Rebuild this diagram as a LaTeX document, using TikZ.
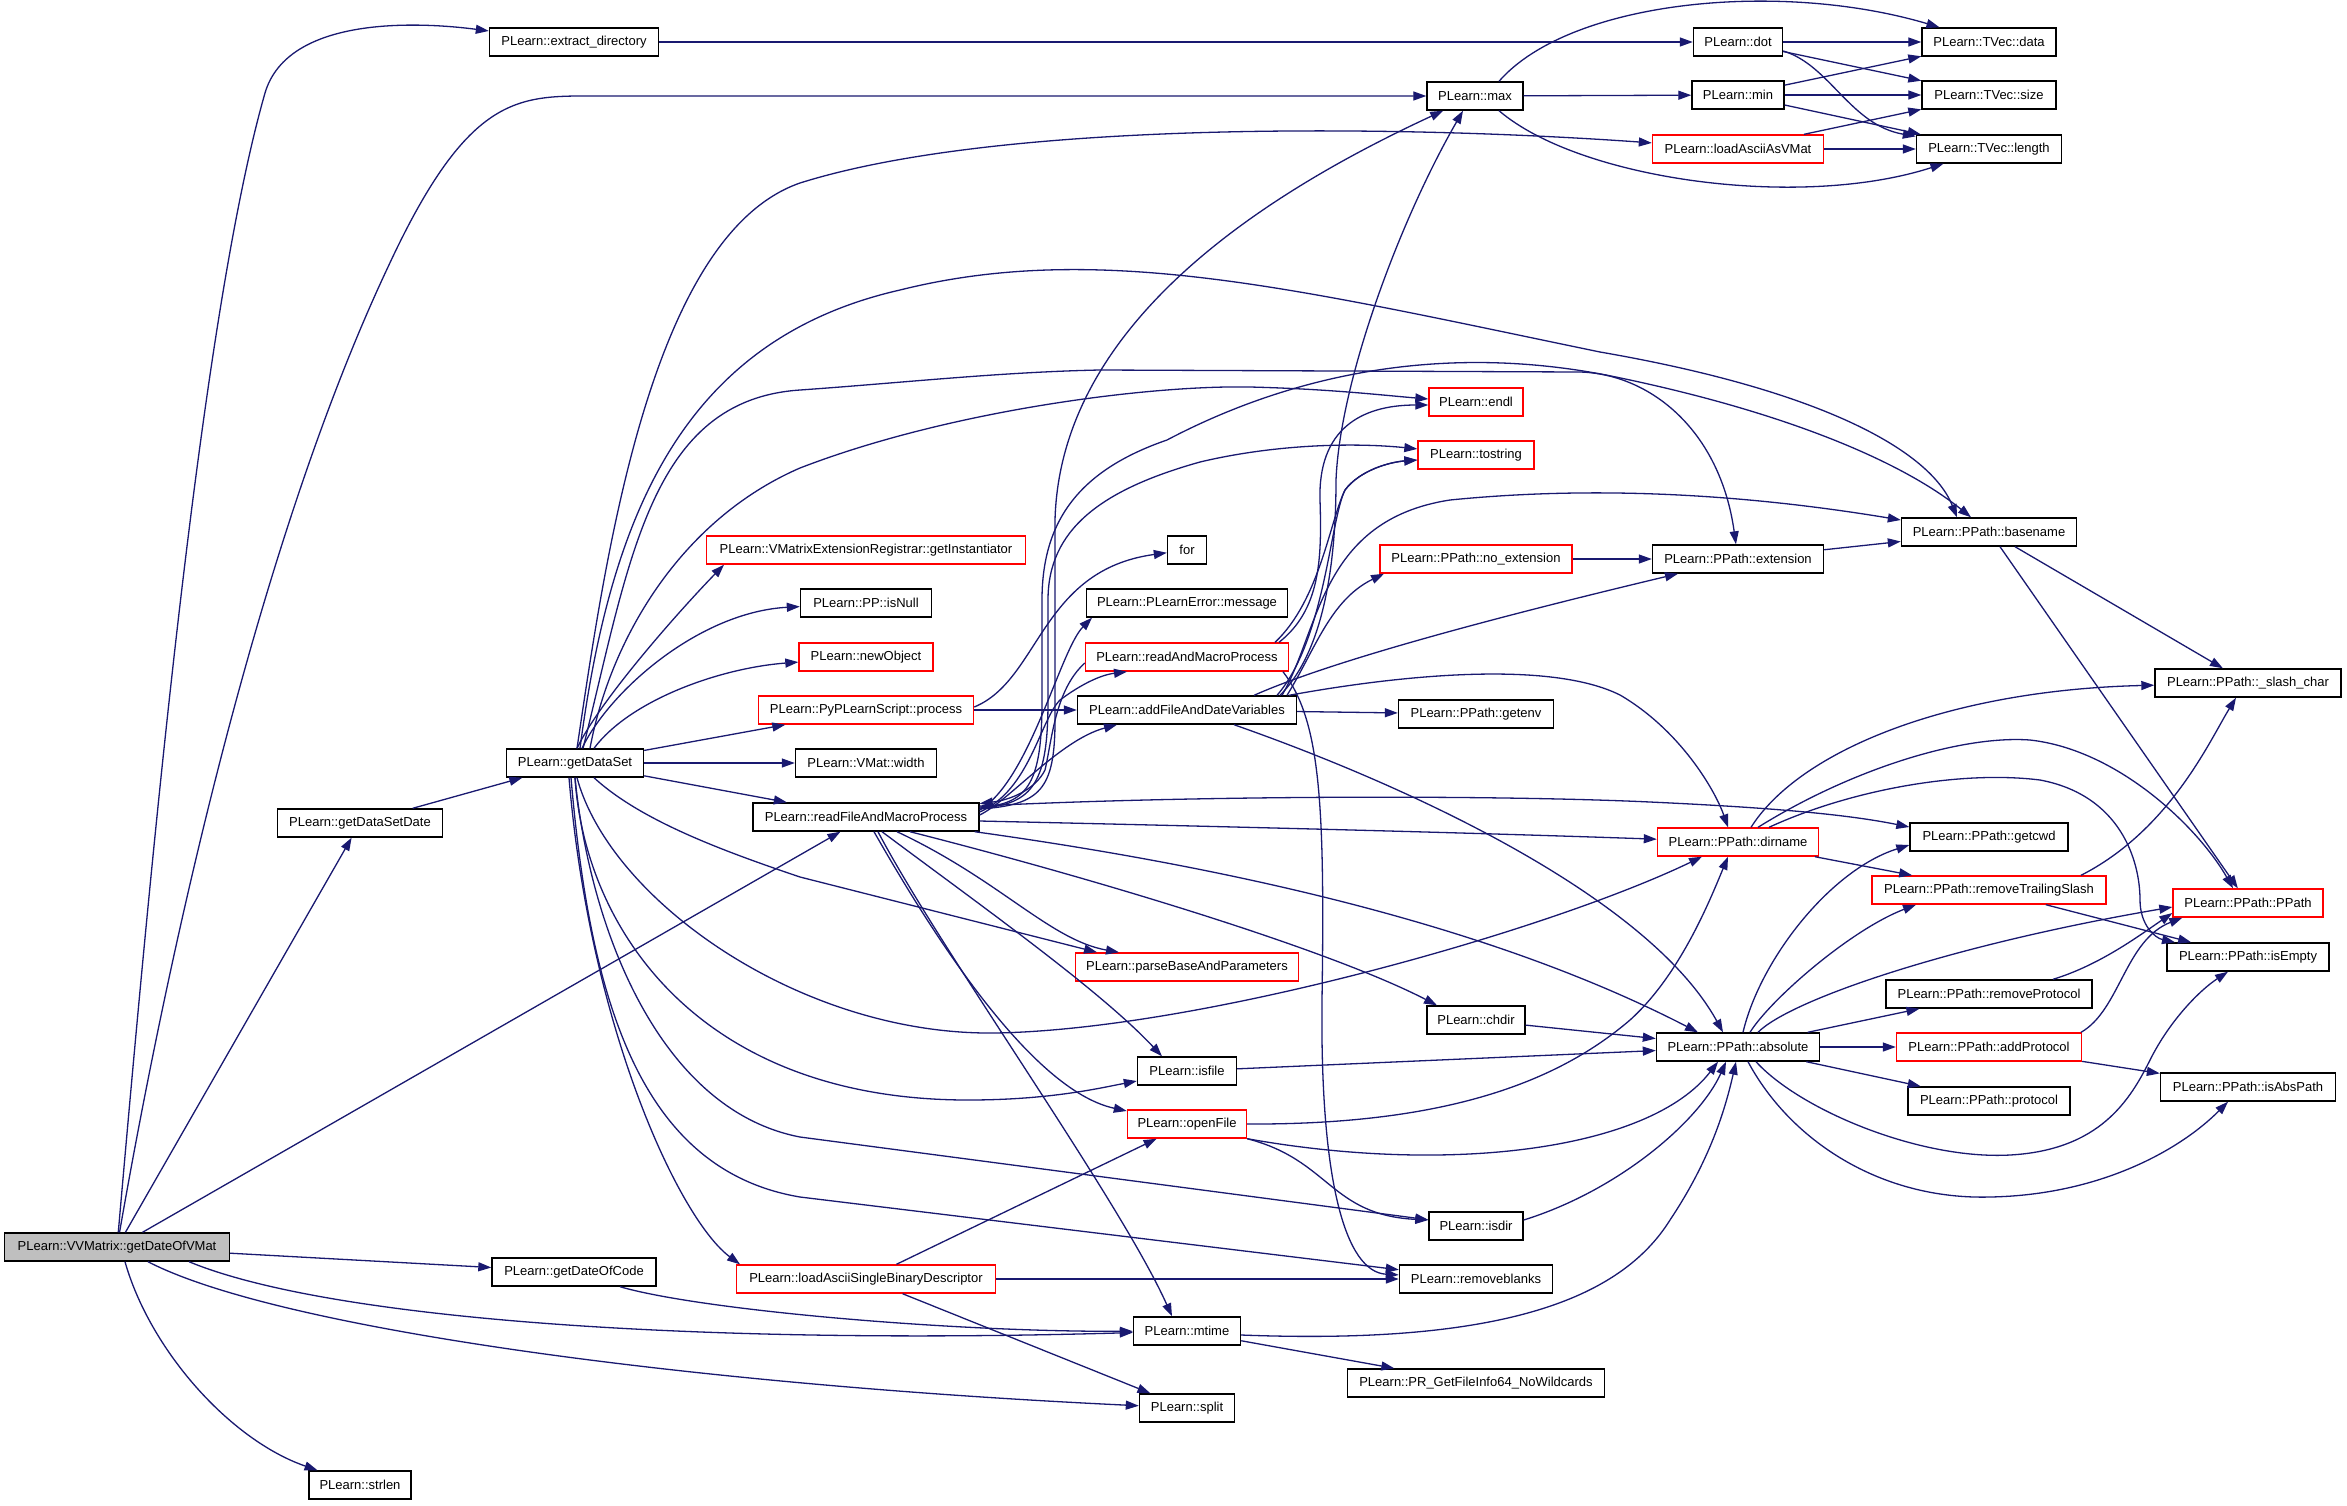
\documentclass[tikz,border=0pt]{standalone}
\usepackage{fontspec}
\setmainfont{Liberation Sans}
\usetikzlibrary{arrows.meta}
\definecolor{edgec}{HTML}{191970}
\definecolor{rootfill}{HTML}{BFBFBF}
\begin{document}
\begin{tikzpicture}[x=1pt,y=-1pt,
  fn/.style={draw=black, line width=1.4pt, fill=white, rectangle, minimum height=28pt, inner sep=0pt, font=\fontsize{13}{15}\selectfont, text=black},
  fnr/.style={fn, draw=red},
  call/.style={draw=edgec, line width=1.3pt, -{Triangle[length=13pt,width=9pt]}}]
\fill[white] (0,0) rectangle (2347,1505);
\useasboundingbox (0,0) rectangle (2347,1505);
% nodes
\node[fn, fill=rootfill, minimum width=225pt] (v) at (117,1247) {PLearn::VVMatrix::getDateOfVMat};
\node[fn, minimum width=169pt] (exdir) at (574,42) {PLearn::extract\_directory};
\node[fn, minimum width=96pt] (nmax) at (1475,96) {PLearn::max};
\node[fn, minimum width=89pt] (dot) at (1738,42) {PLearn::dot};
\node[fn, minimum width=92pt] (nmin) at (1738,95) {PLearn::min};
\node[fnr, minimum width=171pt] (lavm) at (1738,149) {PLearn::loadAsciiAsVMat};
\node[fn, minimum width=134pt] (tdata) at (1989,42) {PLearn::TVec::data};
\node[fn, minimum width=134pt] (tsize) at (1989,95) {PLearn::TVec::size};
\node[fn, minimum width=145pt] (tlen) at (1989,149) {PLearn::TVec::length};
\node[fn, minimum width=165pt] (gdsd) at (360,823) {PLearn::getDataSetDate};
\node[fn, minimum width=137pt] (gds) at (575,763) {PLearn::getDataSet};
\node[fnr, minimum width=319pt] (vmer) at (866,550) {PLearn::VMatrixExtensionRegistrar::getInstantiator};
\node[fn, minimum width=131pt] (isnull) at (866,603) {PLearn::PP::isNull};
\node[fnr, minimum width=134pt] (newobj) at (866,657) {PLearn::newObject};
\node[fnr, minimum width=215pt] (pyproc) at (866,710) {PLearn::PyPLearnScript::process};
\node[fn, minimum width=141pt] (vmw) at (866,763) {PLearn::VMat::width};
\node[fn, minimum width=226pt] (rfamp) at (866,817) {PLearn::readFileAndMacroProcess};
\node[fn, minimum width=39pt] (forn) at (1187,550) {for};
\node[fn, minimum width=201pt] (msg) at (1187,603) {PLearn::PLearnError::message};
\node[fnr, minimum width=203pt] (ramp) at (1187,657) {PLearn::readAndMacroProcess};
\node[fn, minimum width=219pt] (afdv) at (1187,710) {PLearn::addFileAndDateVariables};
\node[fnr, minimum width=223pt] (pbap) at (1187,967) {PLearn::parseBaseAndParameters};
\node[fnr, minimum width=94pt] (endl) at (1476,402) {PLearn::endl};
\node[fnr, minimum width=116pt] (tostr) at (1476,455) {PLearn::tostring};
\node[fnr, minimum width=192pt] (noext) at (1476,559) {PLearn::PPath::no\_extension};
\node[fn, minimum width=155pt] (getenv) at (1476,714) {PLearn::PPath::getenv};
\node[fn, minimum width=175pt] (bname) at (1989,532) {PLearn::PPath::basename};
\node[fn, minimum width=171pt] (ext) at (1738,559) {PLearn::PPath::extension};
\node[fn, minimum width=186pt] (slash) at (2248,683) {PLearn::PPath::\_slash\_char};
\node[fnr, minimum width=161pt] (dirn) at (1738,842) {PLearn::PPath::dirname};
\node[fn, minimum width=158pt] (cwd) at (1989,837) {PLearn::PPath::getcwd};
\node[fnr, minimum width=234pt] (rts) at (1989,890) {PLearn::PPath::removeTrailingSlash};
\node[fnr, minimum width=150pt] (ppath) at (2248,903) {PLearn::PPath::PPath};
\node[fn, minimum width=162pt] (isempty) at (2248,957) {PLearn::PPath::isEmpty};
\node[fn, minimum width=206pt] (rproto) at (1989,994) {PLearn::PPath::removeProtocol};
\node[fn, minimum width=163pt] (nabs) at (1738,1047) {PLearn::PPath::absolute};
\node[fnr, minimum width=185pt] (addp) at (1989,1047) {PLearn::PPath::addProtocol};
\node[fn, minimum width=162pt] (proto) at (1989,1101) {PLearn::PPath::protocol};
\node[fn, minimum width=175pt] (isabs) at (2248,1087) {PLearn::PPath::isAbsPath};
\node[fn, minimum width=98pt] (chdir) at (1476,1020) {PLearn::chdir};
\node[fn, minimum width=99pt] (isfile) at (1187,1071) {PLearn::isfile};
\node[fnr, minimum width=119pt] (openf) at (1187,1124) {PLearn::openFile};
\node[fn, minimum width=94pt] (isdir) at (1476,1226) {PLearn::isdir};
\node[fnr, minimum width=259pt] (lasbd) at (866,1279) {PLearn::loadAsciiSingleBinaryDescriptor};
\node[fn, minimum width=153pt] (rblank) at (1476,1279) {PLearn::removeblanks};
\node[fn, minimum width=107pt] (mtime) at (1187,1331) {PLearn::mtime};
\node[fn, minimum width=257pt] (prget) at (1476,1383) {PLearn::PR\_GetFileInfo64\_NoWildcards};
\node[fn, minimum width=95pt] (split) at (1187,1408) {PLearn::split};
\node[fn, minimum width=164pt] (gdoc) at (574,1272) {PLearn::getDateOfCode};
\node[fn, minimum width=102pt] (strlen) at (360,1485) {PLearn::strlen};
% edges from root
\draw[call] (v) .. controls (150,870) and (200,320) .. (265,93) .. controls (288,15) and (420,22) .. (exdir);
\draw[call] (v) .. controls (160,1000) and (250,560) .. (388,267) .. controls (470,90) and (520,96) .. (600,96) -- (nmax);
\draw[call] (v) -- (gdsd);
\draw[call] (v) -- (rfamp);
\draw[call] (v) -- (gdoc);
\draw[call] ([xshift=72pt]v.south) .. controls (330,1320) and (700,1345) .. (mtime);
\draw[call] ([xshift=31pt]v.south) .. controls (280,1330) and (700,1385) .. (split);
\draw[call] ([xshift=8pt]v.south) .. controls (150,1350) and (230,1440) .. (strlen);
\draw[call] (gdsd) -- (gds);
\draw[call] ([xshift=46pt]gdoc.south) .. controls (700,1310) and (950,1332) .. (mtime);
% top right
\draw[call] (exdir) -- (dot);
\draw[call] (nmax) -- (nmin);
\draw[call] ([xshift=24pt]nmax.north) .. controls (1570,0) and (1780,-20) .. (tdata);
\draw[call] ([xshift=24pt]nmax.south) .. controls (1580,180) and (1800,210) .. (tlen);
\draw[call] (dot) -- (tdata);
\draw[call] (dot) -- (tsize);
\draw[call] ([yshift=-9pt]dot.east) .. controls (1830,65) and (1850,125) .. (tlen);
\draw[call] (nmin) -- (tdata);
\draw[call] (nmin) -- (tsize);
\draw[call] (nmin) -- (tlen);
\draw[call] ([xshift=66pt]lavm.north) -- (tsize);
\draw[call] (lavm) -- (tlen);
% getDataSet
\draw[call] ([xshift=2pt]gds.north) .. controls (605,560) and (650,235) .. (800,183) .. controls (1000,120) and (1400,125) .. (lavm);
\draw[call] ([xshift=5pt]gds.north) .. controls (610,520) and (680,340) .. (900,290) .. controls (1100,240) and (1300,290) .. (1600,352) .. controls (1820,390) and (1930,450) .. ([xshift=-32pt]bname.north);
\draw[call] ([xshift=8pt]gds.north) .. controls (630,560) and (650,400) .. (800,390) .. controls (900,383) and (1000,372) .. (1100,370) -- (1580,372) .. controls (1650,374) and (1720,430) .. (ext);
\draw[call] ([xshift=15pt]gds.north) .. controls (610,640) and (680,520) .. (800,468) .. controls (950,410) and (1150,385) .. (1250,387) .. controls (1330,389) and (1380,395) .. ([yshift=3pt]endl.west);
\draw[call] ([xshift=2pt]gds.north) .. controls (600,700) and (680,610) .. ([xshift=-142pt]vmer.south);
\draw[call] ([xshift=7pt]gds.north) .. controls (610,690) and (700,612) .. (isnull);
\draw[call] ([xshift=19pt]gds.north) .. controls (630,700) and (720,668) .. (newobj);
\draw[call] (gds) -- (pyproc);
\draw[call] (gds) -- (vmw);
\draw[call] (gds) -- (rfamp);
\draw[call] ([xshift=19pt]gds.south) .. controls (640,820) and (720,850) .. (800,877) -- ([xshift=-90pt]pbap.north);
\draw[call] ([xshift=2pt]gds.south) .. controls (610,900) and (800,1035) .. (994,1033) .. controls (1200,1030) and (1550,930) .. ([xshift=-36pt]dirn.south);
\draw[call] (gds.south) .. controls (585,930) and (700,1100) .. (968,1100) .. controls (1050,1100) and (1100,1088) .. ([yshift=-10pt]isfile.west);
\draw[call] (gds.south) .. controls (590,930) and (660,1110) .. (800,1137) -- (isdir);
\draw[call] ([xshift=-4pt]gds.south) .. controls (590,1000) and (640,1170) .. (800,1197) -- (rblank);
\draw[call] ([xshift=-6pt]gds.south) .. controls (590,1030) and (680,1220) .. ([xshift=-126pt]lasbd.north);
% readFileAndMacroProcess
\draw[call] ([yshift=8pt]rfamp.east) .. controls (1040,805) and (1055,790) .. (1055,720) -- (1055,520) .. controls (1060,330) and (1250,200) .. (nmax);
\draw[call] ([yshift=9pt]rfamp.east) .. controls (1035,805) and (1048,780) .. (1048,700) -- (1048,600) .. controls (1048,530) and (1100,490) .. (1200,462) .. controls (1280,443) and (1360,443) .. (tostr);
\draw[call] ([yshift=10pt]rfamp.east) .. controls (1030,805) and (1042,780) .. (1042,700) -- (1042,600) .. controls (1042,520) and (1080,470) .. (1167,440) .. controls (1300,370) and (1450,345) .. (1606,375) .. controls (1780,410) and (1900,460) .. ([xshift=-18pt]bname.north);
\draw[call] ([yshift=7pt]rfamp.east) .. controls (1030,780) and (1060,650) .. ([xshift=-95pt]msg.south);
\draw[call] ([yshift=5pt]rfamp.east) .. controls (1030,790) and (1040,720) .. (1060,700) .. controls (1080,685) and (1100,675) .. ([xshift=-60pt]ramp.south);
\draw[call] ([yshift=-6pt]ramp.west) .. controls (1055,690) and (1052,740) .. (1045,770) .. controls (1035,790) and (1010,800) .. (rfamp);
\draw[call] ([yshift=2pt]rfamp.east) .. controls (1010,800) and (1060,740) .. ([xshift=-70pt]afdv.south);
\draw[call] ([yshift=11pt]rfamp.east) .. controls (1200,795) and (1500,795) .. (1650,802) .. controls (1780,808) and (1850,815) .. ([yshift=10pt]cwd.west);
\draw[call] ([yshift=-4pt]rfamp.east) .. controls (1200,826) and (1450,832) .. (dirn);
\draw[call] ([xshift=-5pt]rfamp.south east) .. controls (1250,870) and (1500,930) .. ([xshift=-40pt]nabs.north);
\draw[call] ([xshift=44pt]rfamp.south) .. controls (1100,880) and (1330,950) .. ([xshift=-39pt]chdir.north);
\draw[call] ([xshift=31pt]rfamp.south) .. controls (1000,880) and (1050,940) .. ([xshift=-68pt]pbap.north);
\draw[call] ([xshift=16pt]rfamp.south) .. controls (980,905) and (1100,990) .. ([xshift=-25pt]isfile.north);
\draw[call] ([xshift=8pt]rfamp.south) .. controls (930,930) and (1030,1090) .. (openf);
\draw[call] ([xshift=12pt]rfamp.south) .. controls (940,950) and (1120,1200) .. ([xshift=-15pt]mtime.north);
% PyPLearnScript
\draw[call] ([yshift=3pt]pyproc.east) .. controls (1040,680) and (1040,570) .. (forn);
\draw[call] (pyproc) -- (afdv);
% addFileAndDateVariables / readAndMacroProcess
\draw[call] ([xshift=93pt]afdv.north) .. controls (1325,650) and (1336,560) .. (1336,480) .. controls (1340,380) and (1400,220) .. ([xshift=-12pt]nmax.south);
\draw[call] ([xshift=90pt]afdv.north) .. controls (1325,640) and (1330,520) .. (1345,490) .. controls (1360,470) and (1390,462) .. ([yshift=-5pt]tostr.west);
\draw[call] ([xshift=88pt]ramp.north) .. controls (1320,600) and (1330,520) .. (1345,490) .. controls (1360,470) and (1390,462) .. ([yshift=-5pt]tostr.west);
\draw[call] ([xshift=92pt]ramp.north) .. controls (1320,610) and (1322,560) .. (1320,500) .. controls (1318,430) and (1360,405) .. ([yshift=-3pt]endl.west);
\draw[call] ([xshift=100pt]afdv.north) .. controls (1315,650) and (1330,600) .. ([xshift=-92pt]noext.south);
\draw[call] ([xshift=67pt]afdv.north) .. controls (1300,675) and (1400,640) .. ([xshift=-60pt]ext.south);
\draw[call] ([xshift=95pt]afdv.north) .. controls (1320,630) and (1320,520) .. (1450,500) .. controls (1600,485) and (1750,495) .. ([yshift=12pt]bname.west);
\draw[call] ([xshift=102pt]afdv.north) .. controls (1400,675) and (1550,660) .. (1620,695) .. controls (1680,730) and (1715,790) .. ([xshift=-10pt]dirn.north);
\draw[call] (afdv) -- (getenv);
\draw[call] ([xshift=47pt]afdv.south) .. controls (1420,790) and (1650,900) .. ([xshift=-15pt]nabs.north);
\draw[call] ([xshift=96pt]ramp.south) .. controls (1320,720) and (1325,800) .. (1322,1000) .. controls (1320,1180) and (1345,1272) .. (rblank);
% PPath group
\draw[call] (noext) -- (ext);
\draw[call] (ext) -- (bname);
\draw[call] ([xshift=26pt]bname.south) -- (slash);
\draw[call] ([xshift=11pt]bname.south) -- (ppath);
\draw[call] ([xshift=13pt]dirn.north) .. controls (1800,750) and (1950,690) .. (slash);
\draw[call] ([xshift=20pt]dirn.north) .. controls (1850,770) and (1960,735) .. (2030,740) .. controls (2120,750) and (2200,830) .. ([xshift=-15pt]ppath.north);
\draw[call] ([xshift=31pt]dirn.north) .. controls (1850,790) and (1960,770) .. (2040,780) .. controls (2120,795) and (2140,860) .. (2140,900) .. controls (2140,925) and (2155,938) .. ([xshift=-73pt]isempty.north);
\draw[call] (dirn) -- (rts);
\draw[call] ([xshift=92pt]rts.north) .. controls (2170,830) and (2210,740) .. ([xshift=-12pt]slash.south);
\draw[call] (rts) -- (isempty);
\draw[call] ([xshift=64pt]rproto.north) .. controls (2100,965) and (2140,935) .. ([yshift=-10pt]ppath.west);
\draw[call] ([xshift=92pt]addp.north) .. controls (2120,1010) and (2125,940) .. ([xshift=10pt]ppath.south west);
\draw[call] ([xshift=20pt]nabs.north) .. controls (1790,1000) and (1950,945) .. ([yshift=-4pt]ppath.west);
\draw[call] ([xshift=12pt]nabs.north) .. controls (1770,1000) and (1850,930) .. ([xshift=-73pt]rts.south);
\draw[call] ([xshift=5pt]nabs.north) .. controls (1760,960) and (1830,870) .. ([yshift=-8pt]cwd.west);
\draw[call] ([xshift=18pt]nabs.south) .. controls (1800,1110) and (1920,1160) .. (2010,1155) .. controls (2100,1150) and (2130,1100) .. (2150,1060) .. controls (2170,1020) and (2200,990) .. ([xshift=-20pt]isempty.south);
\draw[call] ([xshift=10pt]nabs.south) .. controls (1790,1140) and (1880,1200) .. (1990,1197) .. controls (2100,1195) and (2180,1150) .. ([xshift=-20pt]isabs.south);
\draw[call] (nabs) -- (addp);
\draw[call] (nabs) -- (proto);
\draw[call] (nabs) -- (rproto);
\draw[call] (addp) -- (isabs);
% into absolute
\draw[call] (chdir) -- (nabs);
\draw[call] (isfile) -- (nabs);
\draw[call] (openf.south east) .. controls (1450,1175) and (1650,1150) .. ([xshift=-20pt]nabs.south);
\draw[call] (openf.east) .. controls (1450,1125) and (1560,1080) .. (1630,1020) .. controls (1680,975) and (1710,900) .. ([xshift=-10pt]dirn.south);
\draw[call] (openf.south east) .. controls (1330,1160) and (1330,1215) .. ([yshift=6pt]isdir.west);
\draw[call] ([yshift=6pt]isdir.east) .. controls (1620,1190) and (1700,1120) .. ([xshift=-12pt]nabs.south);
\draw[call] ([yshift=-4pt]mtime.east) .. controls (1500,1345) and (1620,1300) .. (1670,1220) .. controls (1710,1160) and (1725,1110) .. ([xshift=-2pt]nabs.south);
\draw[call] (mtime) -- (prget);
\draw[call] (lasbd) -- (openf);
\draw[call] (lasbd) -- (rblank);
\draw[call] (lasbd) -- (split);
\end{tikzpicture}
\end{document}
